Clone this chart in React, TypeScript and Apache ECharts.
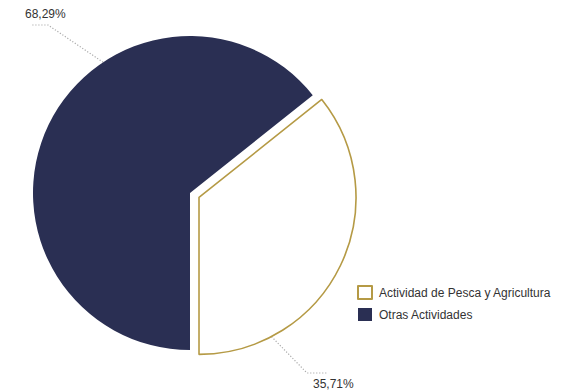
import React, { useEffect, useRef } from "react";
import * as echarts from "echarts";

const categories = ["Actividad de Pesca y Agricultura", "Otras Actividades"];
const values = [35.71, 64.29];
const labelTexts = ["35,71%", "68,29%"];

const GOLD = "#b59a45";
const NAVY = "#2a2f53";
const FONT = "'Liberation Sans', Arial, Helvetica, sans-serif";

const CX = 190;
const CY = 193;
const R = 157;
const OFFSET = 10;

export default function App() {
  const ref = useRef<HTMLDivElement>(null);

  useEffect(() => {
    if (!ref.current) return;
    const chart = echarts.init(ref.current, undefined, { renderer: "svg" });

    const total = values.reduce((a, b) => a + b, 0);
    // white slice drawn counter-clockwise from 6 o'clock; mid-angle clockwise from 12 o'clock
    const whiteSpan = (values[0] / total) * 360;
    const whiteMid = 180 - whiteSpan / 2;
    const off = [
      OFFSET * Math.sin((whiteMid * Math.PI) / 180),
      -OFFSET * Math.cos((whiteMid * Math.PI) / 180),
    ];
    const edge = (deg: number, o: number[]) => {
      const a = (deg * Math.PI) / 180;
      return [CX + o[0] + R * Math.sin(a), CY + o[1] - R * Math.cos(a)];
    };

    const hidden = {
      itemStyle: { color: "rgba(0,0,0,0)", borderWidth: 0 },
      label: { show: false },
      labelLine: { show: false },
    };

    const labelStyle = {
      show: true,
      position: "outside",
      fontSize: 12,
      color: "#333",
      fontFamily: FONT,
    };
    const lineStyle = {
      show: true,
      lineStyle: { color: "#aaaaaa", width: 1.2, type: [1.2, 1.8] },
    };

    const common = {
      type: "pie",
      radius: R,
      startAngle: -90,
      clockwise: false,
      avoidLabelOverlap: false,
      emphasis: { disabled: true },
      selectedMode: false,
      silent: true,
    };

    chart.setOption({
      animation: false,
      legend: {
        orient: "vertical",
        left: 357,
        top: 285,
        padding: 0,
        itemWidth: 14,
        itemHeight: 13,
        itemGap: 8,
        icon: "rect",
        selectedMode: false,
        data: categories,
        textStyle: { fontSize: 12, color: "#333", fontFamily: FONT, padding: [0, 0, 0, 2] },
      },
      series: [
        {
          ...common,
          center: [CX, CY],
          data: [
            { value: values[0], name: "", ...hidden },
            {
              name: categories[1],
              value: values[1],
              itemStyle: { color: NAVY, borderWidth: 0 },
              label: { ...labelStyle, formatter: () => labelTexts[1] },
              labelLine: lineStyle,
            },
          ],
          labelLayout: (params: any) => {
            if (params.dataIndex !== 1) return {};
            return {
              x: 25,
              y: 14,
              align: "left",
              verticalAlign: "middle",
              labelLinePoints: [edge(326.4, [0, 0]), [48, 25], [32, 25]],
            };
          },
        },
        {
          ...common,
          center: [CX + off[0], CY + off[1]],
          data: [
            {
              name: categories[0],
              value: values[0],
              itemStyle: { color: "#ffffff", borderColor: GOLD, borderWidth: 1.6 },
              label: { ...labelStyle, formatter: () => labelTexts[0] },
              labelLine: lineStyle,
            },
            { value: values[1], name: " ", ...hidden },
          ],
          labelLayout: (params: any) => {
            if (params.dataIndex !== 0) return {};
            return {
              x: 313,
              y: 384,
              align: "left",
              verticalAlign: "middle",
              labelLinePoints: [edge(152.5, off), [307, 373], [327, 373]],
            };
          },
        },
      ],
    });

    return () => chart.dispose();
  }, []);

  return (
    <div
      ref={ref}
      style={{ position: "fixed", left: 0, top: 0, width: 566, height: 392, background: "#fff" }}
    />
  );
}
